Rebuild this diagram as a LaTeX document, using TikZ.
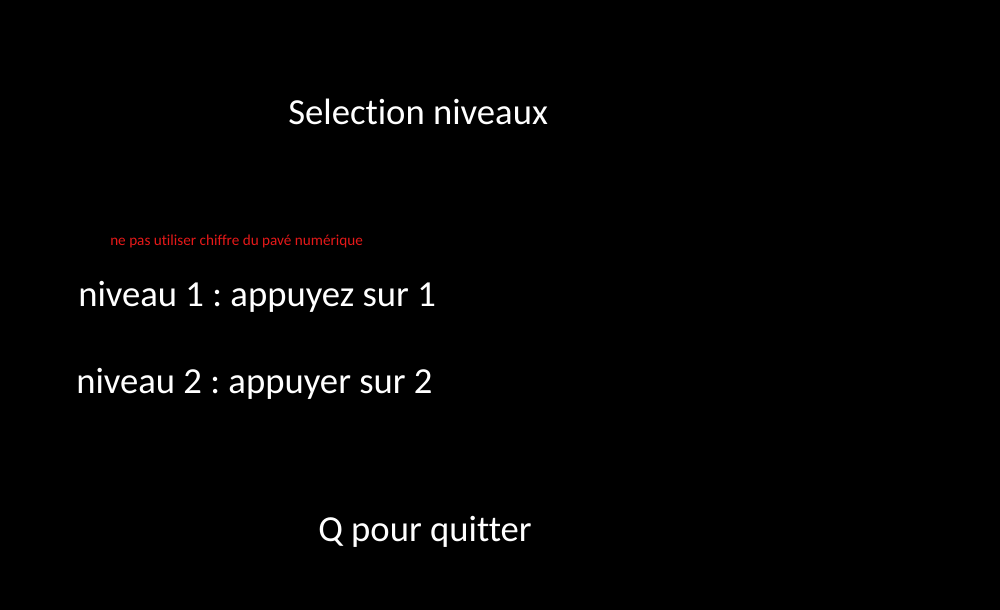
\documentclass[tikz,border=0pt]{standalone}
\usepackage{fontspec}
\setmainfont[Ligatures={NoCommon}]{Carlito}
\definecolor{warnred}{RGB}{230,25,25}
\begin{document}
\frenchspacing
\begin{tikzpicture}[x=0.75pt,y=-0.75pt,
  txt/.style={anchor=base west,inner sep=0pt,text=white},
  warn/.style={anchor=base west,inner sep=0pt,text=warnred}]
\fill[black] (0,0) rectangle (1000,610);
\useasboundingbox (0,0) rectangle (1000,610);
\node[txt,font=\fontsize{27.5}{30}\selectfont] (title) at (288,124.5) {Selection niveaux};
\node[warn,font=\fontsize{11.4}{13}\selectfont] (warning) at (110,245) {ne pas utiliser chiffre du pavé numérique};
\node[txt,font=\fontsize{27.5}{30}\selectfont] (lvl1) at (78,306.5) {niveau 1 : appuyez sur 1};
\node[txt,font=\fontsize{27.5}{30}\selectfont] (lvl2) at (76,393) {niveau 2 : appuyer sur 2};
\node[txt,font=\fontsize{27.5}{30}\selectfont] (quit) at (318,541.5) {Q pour quitter};
\end{tikzpicture}
\end{document}
